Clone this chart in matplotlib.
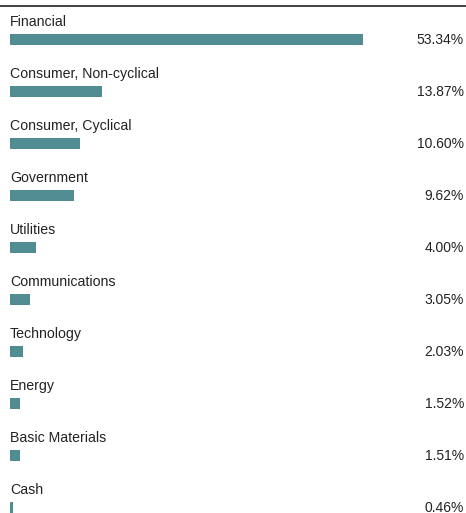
import matplotlib
matplotlib.use("Agg")
import matplotlib.pyplot as plt
import matplotlib.transforms as mtransforms

sectors = ["Financial", "Consumer, Non-cyclical", "Consumer, Cyclical", "Government",
           "Utilities", "Communications", "Technology", "Energy", "Basic Materials", "Cash"]
weights = [53.34, 13.87, 10.60, 9.62, 4.00, 3.05, 2.03, 1.52, 1.51, 0.46]

plt.rcParams["font.family"] = ["Liberation Sans", "DejaVu Sans"]

W, H = 466, 513
fig = plt.figure(figsize=(W / 100, H / 100), dpi=100)
ax = fig.add_axes([0, 0, 1, 1])

px_per_pct = 353 / 53.34
row_px = 52
first_px = 39.5
ax.set_xlim(-10 / px_per_pct, (W - 10) / px_per_pct)
ax.set_ylim((H - first_px) / row_px, -first_px / row_px)
ax.axis("off")

rows = list(range(len(sectors)))
ax.barh(rows, weights, height=11 / row_px, left=0, color="#528c93")

trans = mtransforms.blended_transform_factory(ax.transAxes, ax.transData)
for i, (name, w) in enumerate(zip(sectors, weights)):
    ax.text(0, i - 13.5 / row_px, name, fontsize=10.2, color="#222222",
            va="baseline", ha="left")
    ax.text(464 / W, i, f"{w:.2f}%", transform=trans, fontsize=10,
            color="#222222", va="center", ha="right")

ax.axhline(-33.5 / row_px, color="#222222", lw=1.2)

fig.savefig("out.png", dpi=100)
